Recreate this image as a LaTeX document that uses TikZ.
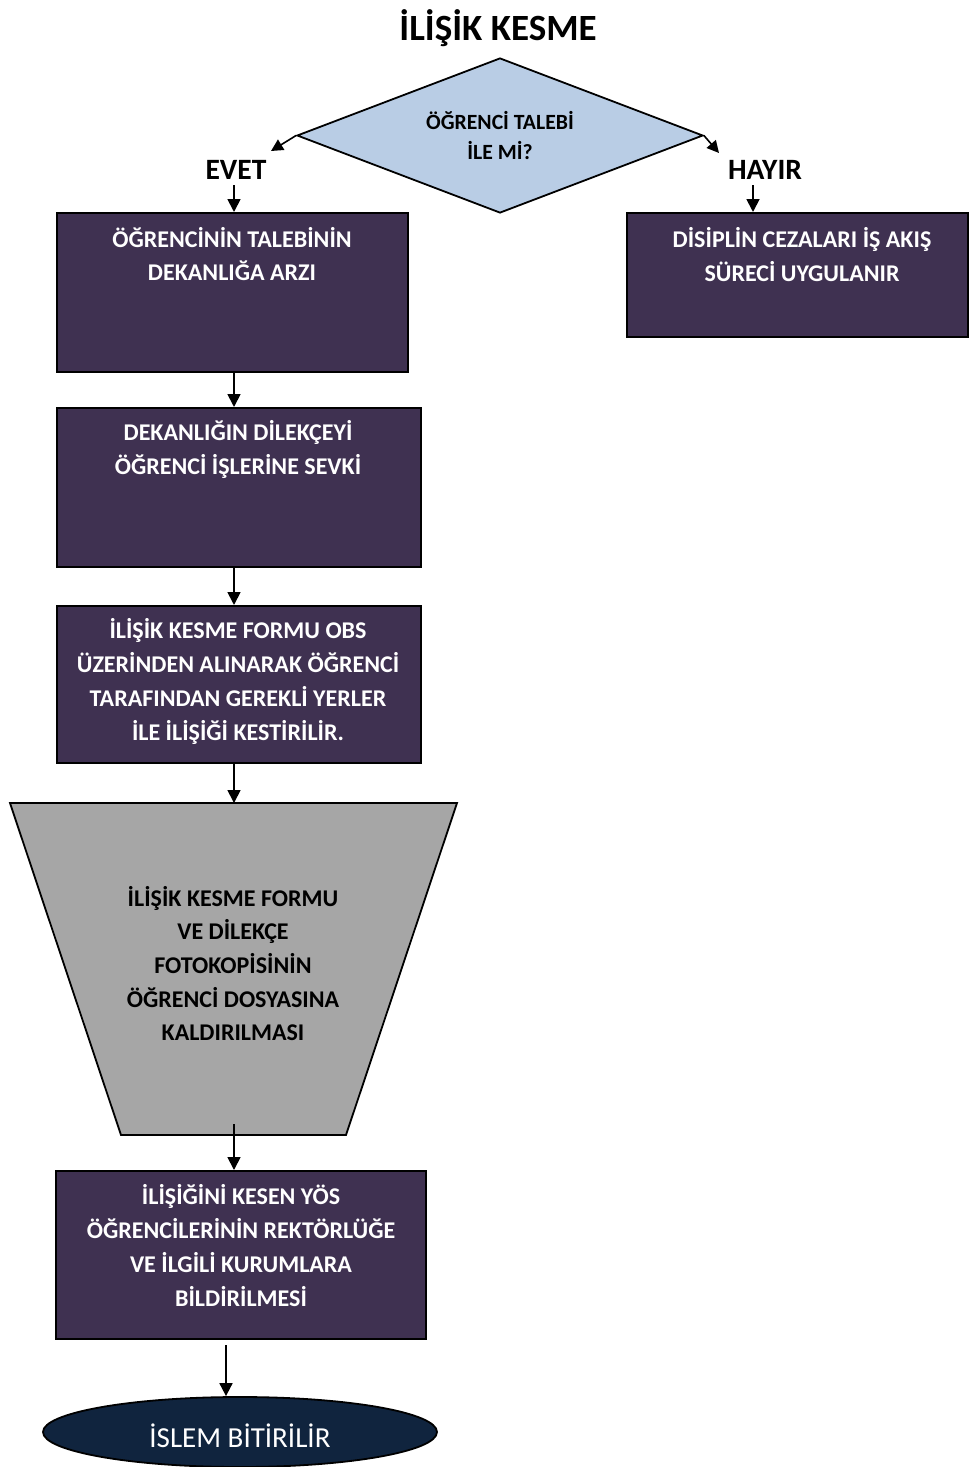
\documentclass[tikz,border=0pt]{standalone}
\usepackage{fontspec}
\setmainfont{Carlito}
\usetikzlibrary{arrows.meta,shapes.geometric}

\definecolor{boxpurple}{HTML}{3F3151}
\definecolor{diablue}{HTML}{B9CDE5}
\definecolor{trapgray}{HTML}{A6A6A6}
\definecolor{endnavy}{HTML}{10243E}

\begin{document}
\begin{tikzpicture}[x=1pt,y=-1pt,
  stepbox/.style={draw=black,line width=2pt,fill=boxpurple,inner sep=0pt,rectangle},
  boxtext/.style={text=white,align=center,inner sep=0pt,font=\fontsize{24}{33.7}\selectfont\bfseries},
  flow/.style={line width=1.8pt,-{Triangle[length=13pt,width=13pt]}},
  answer/.style={font=\fontsize{29.5}{34}\selectfont\bfseries,inner sep=0pt}]
\useasboundingbox (0,0) rectangle (970,1467);

% title
\node[font=\fontsize{37}{42}\selectfont\bfseries,inner sep=0pt] (title) at (498,28) {İLİŞİK KESME};

% decision
\node[diamond,draw=black,line width=1.8pt,fill=diablue,minimum width=406pt,minimum height=155pt,inner sep=0pt] (dia) at (500,135.5) {};
\node[align=center,inner sep=0pt,font=\fontsize{21.7}{30}\selectfont\bfseries] (diatext) at (dia.center) {ÖĞRENCİ TALEBİ\\İLE Mİ?};
\coordinate (yesend) at (271,151);
\coordinate (noend) at (719,153);
\draw[line width=1.6pt,-{Triangle[length=12pt,width=12pt]}] (dia.west) -- (yesend);
\draw[line width=1.6pt,-{Triangle[length=12pt,width=12pt]}] (dia.east) -- (noend);

\node[answer] (yes) at (236,170) {EVET};
\node[answer] (no) at (765,170) {HAYIR};

% process boxes
\node[stepbox,minimum width=351pt,minimum height=159pt] (b1) at (232.5,292.5) {};
\node[boxtext] (t1) at (232,254) {ÖĞRENCİNİN TALEBİNİN\\DEKANLIĞA ARZI};

\node[stepbox,minimum width=341pt,minimum height=124pt] (bh) at (797.5,275) {};
\node[boxtext] (th) at (802,254.5) {DİSİPLİN CEZALARI İŞ AKIŞ\\SÜRECİ UYGULANIR};

\node[stepbox,minimum width=364pt,minimum height=159pt] (b2) at (239,487.5) {};
\node[boxtext] (t2) at (238,449.5) {DEKANLIĞIN DİLEKÇEYİ\\ÖĞRENCİ İŞLERİNE SEVKİ};

\node[stepbox,minimum width=364pt,minimum height=157pt] (b3) at (239,684.5) {};
\node[boxtext] (t3) at (238,681.5) {İLİŞİK KESME FORMU OBS\\ÜZERİNDEN ALINARAK ÖĞRENCİ\\TARAFINDAN GEREKLİ YERLER\\İLE İLİŞİĞİ KESTİRİLİR.};

% manual operation (trapezoid)
\draw[line width=1.8pt,fill=trapgray] (10,803) -- (457,803) -- (346,1135) -- (121,1135) -- cycle;
\coordinate (trtop) at (234,803);
\coordinate (trbot) at (234,1124);
\node[boxtext,text=black] (tt) at (233,963.5) {İLİŞİK KESME FORMU\\VE DİLEKÇE\\FOTOKOPİSİNİN\\ÖĞRENCİ DOSYASINA\\KALDIRILMASI};

\node[stepbox,minimum width=370pt,minimum height=168pt] (b4) at (241,1255) {};
\node[boxtext] (t4) at (241,1245.5) {İLİŞİĞİNİ KESEN YÖS\\ÖĞRENCİLERİNİN REKTÖRLÜĞE\\VE İLGİLİ KURUMLARA\\BİLDİRİLMESİ};

% terminator
\node[ellipse,draw=black,line width=1.8pt,fill=endnavy,minimum width=394pt,minimum height=70pt,inner sep=0pt,
      text=white,text height=30pt,text depth=0pt,font=\fontsize{29}{34}\selectfont] (end) at (240,1432) {İSLEM BİTİRİLİR};

% connectors
\draw[flow] (234,185) -- (b1.north -| 234,0);
\draw[flow] (753,185) -- (bh.north -| 753,0);
\draw[flow] (b1.south -| 234,0) -- (b2.north -| 234,0);
\draw[flow] (b2.south -| 234,0) -- (b3.north -| 234,0);
\draw[flow] (b3.south -| 234,0) -- (trtop);
\draw[flow] (trbot) -- (b4.north -| 234,0);
\draw[flow] (226,1345) -- (end.north -| 226,0);
\end{tikzpicture}
\end{document}
